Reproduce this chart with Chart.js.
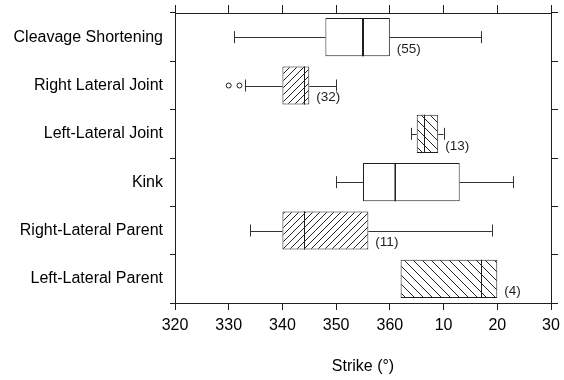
<!DOCTYPE html>
<html>
<head>
<meta charset="utf-8">
<script src="https://cdn.jsdelivr.net/npm/chart.js@4"></script>
<style>
  html, body { margin: 0; padding: 0; background: #fff; }
</style>
</head>
<body>
<canvas id="strike-chart" width="564" height="380"></canvas>
<script>
// strike data, degrees; values past 360 wrap round to 0-30
const categories = ['Cleavage Shortening', 'Right Lateral Joint', 'Left-Lateral Joint', 'Kink', 'Right-Lateral Parent', 'Left-Lateral Parent'];
const whiskerLow = [331, 333, 364, 350, 334, null];
const q1 = [348, 340, 365, 355, 340, 362];
const median = [355, 344, 366.4, 361, 344, 377];
const q3 = [360, 345, 369, 373, 356, 380];
const whiskerHigh = [377, 350, 370, 383, 379, null];
const outliers = [[], [330, 332], [], [], [], []];
const counts = [55, 32, 13, null, 11, 4];
const hatch = [null, '/', '\\', null, '/', '\\'];
const tickLabels = ['320', '330', '340', '350', '360', '10', '20', '30'];

(function () {
  'use strict';
  const ctx = document.getElementById('strike-chart');
  const g2d = ctx.getContext('2d');
  const ink = '#1e1e1e';
  const fontFamily = "'Liberation Sans', Arial, Helvetica, sans-serif";

  function makeHatch(dir, size) {
    const c = document.createElement('canvas');
    c.width = size;
    c.height = size;
    const g = c.getContext('2d');
    g.fillStyle = '#fff';
    g.fillRect(0, 0, size, size);
    g.strokeStyle = '#222';
    g.lineWidth = 1;
    g.beginPath();
    if (dir === '/') {
      g.moveTo(-1, size + 1); g.lineTo(size + 1, -1);
      g.moveTo(-1, 1); g.lineTo(1, -1);
      g.moveTo(size - 1, size + 1); g.lineTo(size + 1, size - 1);
    } else {
      g.moveTo(-1, -1); g.lineTo(size + 1, size + 1);
      g.moveTo(size - 1, -1); g.lineTo(size + 1, 1);
      g.moveTo(-1, size - 1); g.lineTo(1, size + 1);
    }
    g.stroke();
    return g2d.createPattern(c, 'repeat');
  }

  const fills = hatch.map(h => h === '/' ? makeHatch('/', 7) : h === '\\' ? makeHatch('\\', 9) : '#fff');
  const medianWidth = [2, 1, 1, 1.5, 1, 1];

  // whiskers, medians, outliers and counts, placed with the chart's scales
  const boxExtras = {
    id: 'boxExtras',
    afterDatasetsDraw(chart) {
      const c = chart.ctx;
      const x = chart.scales.x;
      const y = chart.scales.y;
      const meta = chart.getDatasetMeta(0);
      c.save();
      c.strokeStyle = ink;
      c.fillStyle = ink;
      categories.forEach((cat, i) => {
        const yc = y.getPixelForValue(i);
        const bar = meta.data[i];
        const half = bar.height / 2;
        const cap = 6;
        c.lineWidth = 1;
        c.strokeStyle = '#333';
        c.beginPath();
        if (whiskerLow[i] !== null) {
          const xl = x.getPixelForValue(whiskerLow[i]);
          c.moveTo(xl, Math.round(yc) + 0.5);
          c.lineTo(x.getPixelForValue(q1[i]), Math.round(yc) + 0.5);
          c.moveTo(Math.round(xl) + 0.5, yc - cap);
          c.lineTo(Math.round(xl) + 0.5, yc + cap);
        }
        if (whiskerHigh[i] !== null) {
          const xh = x.getPixelForValue(whiskerHigh[i]);
          c.moveTo(x.getPixelForValue(q3[i]), Math.round(yc) + 0.5);
          c.lineTo(xh, Math.round(yc) + 0.5);
          c.moveTo(Math.round(xh) + 0.5, yc - cap);
          c.lineTo(Math.round(xh) + 0.5, yc + cap);
        }
        c.stroke();

        const xm = x.getPixelForValue(median[i]);
        c.strokeStyle = ink;
        c.lineWidth = medianWidth[i];
        c.beginPath();
        c.moveTo(medianWidth[i] === 1 ? Math.round(xm) + 0.5 : xm, yc - half);
        c.lineTo(medianWidth[i] === 1 ? Math.round(xm) + 0.5 : xm, yc + half);
        c.stroke();

        c.lineWidth = 1;
        outliers[i].forEach(v => {
          c.beginPath();
          c.arc(x.getPixelForValue(v), yc, 2.5, 0, Math.PI * 2);
          c.stroke();
        });

        if (counts[i] !== null) {
          c.font = '13.5px ' + fontFamily;
          c.textAlign = 'left';
          c.textBaseline = 'middle';
          c.fillText('(' + counts[i] + ')', x.getPixelForValue(q3[i]) + 7, yc + 12);
        }
      });
      c.restore();
    }
  };

  new Chart(ctx, {
    type: 'bar',
    data: {
      labels: categories,
      datasets: [{
        data: categories.map((c, i) => [q1[i], q3[i]]),
        backgroundColor: fills,
        borderColor: ink,
        borderWidth: 1,
        borderSkipped: false,
        barPercentage: 0.79,
        categoryPercentage: 1.0
      }]
    },
    options: {
      indexAxis: 'y',
      responsive: false,
      animation: false,
      layout: { padding: 0 },
      plugins: {
        legend: { display: false },
        tooltip: { enabled: false }
      },
      scales: {
        x: {
          type: 'linear',
          position: 'bottom',
          min: 320,
          max: 390,
          ticks: {
            stepSize: 10,
            color: '#000',
            padding: 6,
            maxRotation: 0,
            font: { family: fontFamily, size: 16 },
            callback: (v, idx) => tickLabels[idx]
          },
          grid: { drawOnChartArea: false, tickLength: 7, tickColor: ink },
          border: { color: ink, width: 1 },
          title: {
            display: true,
            text: 'Strike (°)',
            color: '#000',
            font: { family: fontFamily, size: 16 },
            padding: { top: 4, bottom: 4 }
          },
          afterFit: s => { s.height = 77; s.paddingLeft = 0; s.paddingRight = 0; }
        },
        x2: {
          type: 'linear',
          position: 'top',
          min: 320,
          max: 390,
          ticks: { stepSize: 10, display: false },
          grid: { drawOnChartArea: false, tickLength: 8, tickColor: ink },
          border: { color: ink, width: 1 },
          afterFit: s => { s.height = 13; s.paddingLeft = 0; s.paddingRight = 0; }
        },
        y: {
          type: 'category',
          position: 'left',
          offset: true,
          ticks: {
            color: '#000',
            padding: 7,
            font: { family: fontFamily, size: 16 }
          },
          grid: { offset: true, drawOnChartArea: false, tickLength: 5, tickColor: ink },
          border: { color: ink, width: 1 },
          afterFit: s => { s.width = 175; s.paddingTop = 0; s.paddingBottom = 0; }
        },
        y2: {
          type: 'category',
          position: 'right',
          display: true,
          offset: true,
          labels: categories,
          ticks: { display: false },
          grid: { offset: true, drawOnChartArea: false, tickLength: 7, tickColor: ink },
          border: { color: ink, width: 1 },
          afterFit: s => { s.width = 13; s.paddingTop = 0; s.paddingBottom = 0; }
        }
      }
    },
    plugins: [boxExtras]
  });
})();
</script>
</body>
</html>
